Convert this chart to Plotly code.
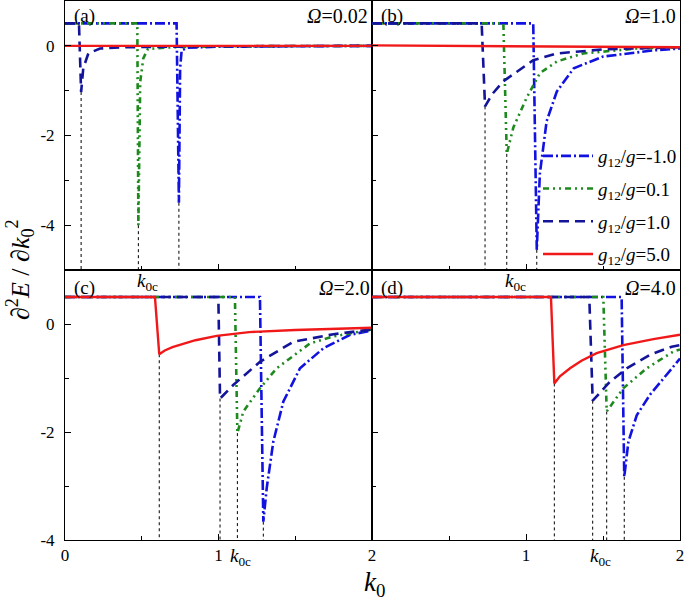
import plotly.graph_objects as go

# ---------------- data ----------------
# series labels (g12/g)
SERIES = ["-1.0", "0.1", "1.0", "5.0"]
OMEGAS = ["0.02", "1.0", "2.0", "4.0"]
PANEL_TAGS = ["(a)", "(b)", "(c)", "(d)"]
X_TICKS = [0, 1, 2]
Y_TICKS = [-4, -2, 0]
Y_TICK_TEXT = ["-4", "-2", "0"]

# panel (a)  Omega = 0.02
a_k_m10 = [0, 0.727, 0.742, 0.750, 0.760, 0.80, 1.0, 2.0]
a_v_m10 = [0.5, 0.5, -3.5, -0.5, -0.1, -0.04, -0.02, 0.0]
a_k_p01 = [0, 0.471, 0.478, 0.490, 0.510, 0.540, 0.70, 1.0, 2.0]
a_v_p01 = [0.5, 0.5, -4.0, -0.8, -0.28, -0.07, -0.03, -0.01, 0.0]
a_k_p10 = [0, 0.091, 0.105, 0.119, 0.152, 0.228, 0.40, 1.0, 2.0]
a_v_p10 = [0.5, 0.5, -1.03, -0.5, -0.17, -0.06, -0.03, -0.01, 0.0]
a_k_p50 = [0, 1.0, 2.0]
a_v_p50 = [0.0, 0.0, 0.0]

# panel (b)  Omega = 1.0
b_k_m10 = [0, 1.047, 1.070, 1.090, 1.134, 1.20, 1.31, 1.50, 1.83, 2.0]
b_v_m10 = [0.5, 0.5, -4.55, -2.85, -1.68, -1.02, -0.50, -0.24, -0.10, -0.06]
b_k_p01 = [0, 0.853, 0.875, 0.918, 1.004, 1.09, 1.20, 1.37, 1.72, 2.0]
b_v_p01 = [0.5, 0.5, -2.41, -1.82, -1.16, -0.61, -0.35, -0.17, -0.06, -0.03]
b_k_p10 = [0, 0.712, 0.734, 0.780, 0.853, 1.047, 1.20, 1.50, 2.0]
b_v_p10 = [0.5, 0.5, -1.35, -1.08, -0.79, -0.32, -0.17, -0.08, -0.03]
b_k_p50 = [0, 1.0, 2.0]
b_v_p50 = [0.01, -0.01, -0.03]

# panel (c)  Omega = 2.0
c_k_m10 = [0, 1.270, 1.292, 1.314, 1.357, 1.422, 1.531, 1.683, 1.857, 2.0]
c_v_m10 = [0.5, 0.5, -3.66, -3.04, -2.18, -1.44, -0.82, -0.45, -0.20, -0.12]
c_k_p01 = [0, 1.107, 1.123, 1.162, 1.270, 1.379, 1.596, 1.748, 2.0]
c_v_p01 = [0.5, 0.5, -2.02, -1.62, -1.19, -0.82, -0.36, -0.23, -0.10]
c_k_p10 = [0, 0.999, 1.010, 1.096, 1.270, 1.487, 1.748, 2.0]
c_v_p10 = [0.5, 0.5, -1.38, -1.13, -0.70, -0.33, -0.19, -0.10]
c_k_p50 = [0, 0.586, 0.614, 0.650, 0.700, 0.749, 0.850, 0.988, 1.20, 1.50, 2.0]
c_v_p50 = [0.5, 0.5, -0.56, -0.49, -0.43, -0.39, -0.30, -0.22, -0.15, -0.11, -0.07]

# panel (d)  Omega = 4.0
d_k_m10 = [0, 1.621, 1.638, 1.665, 1.719, 1.805, 1.913, 2.0]
d_v_m10 = [0.5, 0.5, -2.83, -2.18, -1.69, -1.31, -0.94, -0.64]
d_k_p01 = [0, 1.502, 1.524, 1.632, 1.784, 1.957, 2.0]
d_v_p01 = [0.5, 0.5, -1.62, -1.19, -0.82, -0.51, -0.47]
d_k_p10 = [0, 1.411, 1.433, 1.545, 1.654, 1.805, 1.946, 2.0]
d_v_p10 = [0.5, 0.5, -1.42, -1.07, -0.82, -0.57, -0.42, -0.39]
d_k_p50 = [0, 1.162, 1.184, 1.220, 1.286, 1.360, 1.459, 1.632, 1.827, 2.0]
d_v_p50 = [0.5, 0.5, -1.10, -0.97, -0.82, -0.68, -0.54, -0.39, -0.28, -0.20]

# which series get a k0c marker line in each panel
MARKED = [[0, 1, 2], [0, 1, 2], [0, 1, 2, 3], [0, 1, 2, 3]]

X_RANGE = [0, 2]
Y_RANGE_TOP = [-5, 1]
Y_RANGE_BOT = [-4, 1]

# ---------------- styles ----------------
COLORS = ["#1212e0", "#1e8a1e", "#14149a", "#f01818"]
DASHES = ["10px,3px,2px,3px", "6px,4px,2px,4px,2px,4px", "10px,6px", "solid"]
WIDTHS = [2.6, 2.6, 2.6, 2.4]
FONT = "Liberation Serif"

W, H = 685, 602
ML, MR, MT, MB = 65, 5, 1, 62
PW, PH = W - ML - MR, H - MT - MB


def px(x, y):
    return (x - ML) / PW, (H - MB - y) / PH


xs = px(372, 0)[0]
ys = px(0, 270)[1]

panels = [
    ([a_k_m10, a_k_p01, a_k_p10, a_k_p50], [a_v_m10, a_v_p01, a_v_p10, a_v_p50]),
    ([b_k_m10, b_k_p01, b_k_p10, b_k_p50], [b_v_m10, b_v_p01, b_v_p10, b_v_p50]),
    ([c_k_m10, c_k_p01, c_k_p10, c_k_p50], [c_v_m10, c_v_p01, c_v_p10, c_v_p50]),
    ([d_k_m10, d_k_p01, d_k_p10, d_k_p50], [d_v_m10, d_v_p01, d_v_p10, d_v_p50]),
]
yranges = [Y_RANGE_TOP, Y_RANGE_TOP, Y_RANGE_BOT, Y_RANGE_BOT]

fig = go.Figure()

for p, (ks, vs) in enumerate(panels):
    xa = "x" if p == 0 else f"x{p+1}"
    ya = "y" if p == 0 else f"y{p+1}"
    # k0c guide lines from the minimum down to the bottom of the panel
    for s in MARKED[p]:
        vmin = min(vs[s])
        kmin = ks[s][vs[s].index(vmin)]
        fig.add_trace(go.Scatter(
            x=[kmin, kmin], y=[vmin, yranges[p][0]], mode="lines",
            line=dict(color="black", width=1, dash="dot"),
            xaxis=xa, yaxis=ya, showlegend=False, hoverinfo="skip"))
    for s in range(4):
        fig.add_trace(go.Scatter(
            x=ks[s], y=vs[s], mode="lines",
            line=dict(color=COLORS[s], width=WIDTHS[s], dash=DASHES[s]),
            name=f"<i>g</i><sub>12</sub>/<i>g</i>={SERIES[s]}",
            legendgroup=f"g{s}", showlegend=(p == 1),
            xaxis=xa, yaxis=ya))

axis_common = dict(
    showline=True, mirror=True, linecolor="black", linewidth=1,
    ticks="inside", tickcolor="black", ticklen=6, tickwidth=1,
    showgrid=False, zeroline=False,
    tickfont=dict(family=FONT, size=17, color="black"),
)
xminor = dict(ticks="inside", dtick=0.5, tick0=0, ticklen=4, tickcolor="black", showgrid=False)
yminor = dict(ticks="inside", dtick=1, tick0=0, ticklen=4, tickcolor="black", showgrid=False)

layout_axes = {}
doms_x = [[0, xs], [xs, 1], [0, xs], [xs, 1]]
doms_y = [[ys, 1], [ys, 1], [0, ys], [0, ys]]
for p in range(4):
    xn = "xaxis" if p == 0 else f"xaxis{p+1}"
    yn = "yaxis" if p == 0 else f"yaxis{p+1}"
    xtext = [str(v) for v in X_TICKS]
    if p == 3:
        xtext[0] = ""
    xa = dict(axis_common, domain=doms_x[p], range=X_RANGE, anchor=("y" if p == 0 else f"y{p+1}"),
              tickmode="array", tickvals=X_TICKS, ticktext=xtext, minor=xminor,
              showticklabels=(p >= 2))
    ya = dict(axis_common, domain=doms_y[p], range=yranges[p], anchor=("x" if p == 0 else f"x{p+1}"),
              tickmode="array", tickvals=Y_TICKS, ticktext=Y_TICK_TEXT, minor=yminor,
              showticklabels=(p in (0, 2)), ticklabelstandoff=6)
    layout_axes[xn] = xa
    layout_axes[yn] = ya

annotations = []
# panel tags and Omega labels
tag_pos = [(72, 16), (379, 16), (72, 288), (379, 288)]
om_pos = [(370, 16), (678, 16), (372, 288), (678, 288)]
for p in range(4):
    x, y = px(*tag_pos[p])
    annotations.append(dict(text=PANEL_TAGS[p], x=x, y=y, xref="paper", yref="paper",
                            xanchor="left", yanchor="middle", showarrow=False,
                            font=dict(family=FONT, size=19, color="black")))
    x, y = px(*om_pos[p])
    annotations.append(dict(text=f"<i>Ω</i>={OMEGAS[p]}", x=x, y=y, xref="paper", yref="paper",
                            xanchor="right", yanchor="middle", showarrow=False,
                            font=dict(family=FONT, size=20, color="black")))
# k0c labels
for (x0, y0) in [(147, 282), (515, 282), (240, 557), (600, 557)]:
    x, y = px(x0, y0)
    annotations.append(dict(text="<i>k</i><sub>0c</sub>", x=x, y=y, xref="paper", yref="paper",
                            xanchor="center", yanchor="middle", showarrow=False,
                            font=dict(family=FONT, size=19, color="black")))
# axis titles
x, y = px(20, 270)
annotations.append(dict(text="∂<sup>2</sup><i>E</i> / ∂<i>k</i><sub>0</sub><sup>2</sup>",
                        x=x, y=y, xref="paper", yref="paper", textangle=-90,
                        xanchor="center", yanchor="middle", showarrow=False,
                        font=dict(family=FONT, size=26, color="black")))
x, y = px(374, 584)
annotations.append(dict(text="<i>k</i><sub>0</sub>", x=x, y=y, xref="paper", yref="paper",
                        xanchor="center", yanchor="middle", showarrow=False,
                        font=dict(family=FONT, size=27, color="black")))

lx, ly = px(538, 137)
fig.update_layout(
    width=W, height=H,
    margin=dict(l=ML, r=MR, t=MT, b=MB),
    paper_bgcolor="white", plot_bgcolor="white",
    font=dict(family=FONT, size=17, color="black"),
    showlegend=True,
    legend=dict(x=lx, y=ly, xanchor="left", yanchor="top", bgcolor="rgba(0,0,0,0)",
                font=dict(family=FONT, size=19, color="black"),
                itemwidth=50, tracegroupgap=5, borderwidth=0),
    annotations=annotations,
    **layout_axes,
)

fig.write_html("out.html", config={"displayModeBar": False},
               post_script="document.body.style.margin='0';document.body.style.padding='0';")
